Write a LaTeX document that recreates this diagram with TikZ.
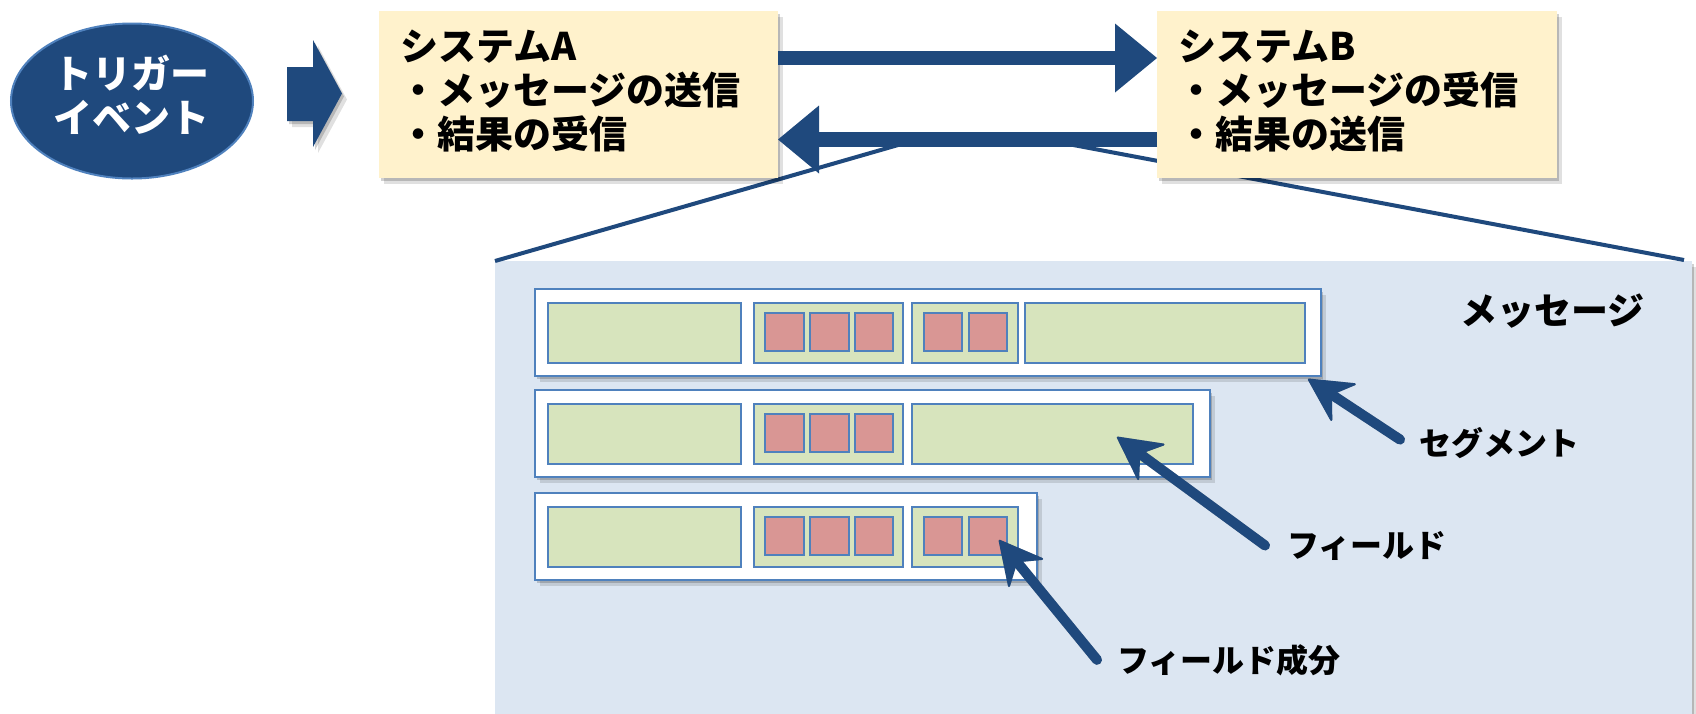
\documentclass[tikz,border=0pt]{standalone}
\usepackage{fontspec}
\newfontfamily\jp{Noto Sans CJK JP}
\usetikzlibrary{arrows.meta,shadows,calc,shapes.geometric}
\definecolor{navy}{HTML}{1F497D}
\definecolor{lblue}{HTML}{4F81BD}
\definecolor{boxy}{HTML}{FFF2CC}
\definecolor{panelc}{HTML}{DCE6F2}
\definecolor{fgreen}{HTML}{D7E4BD}
\definecolor{fred}{HTML}{D99694}
\begin{document}
\begin{tikzpicture}[x=1pt,y=-1pt,
  myshadow/.style={drop shadow={shadow xshift=2pt,shadow yshift=-3pt,opacity=.18,fill=black},
                   drop shadow={shadow xshift=5pt,shadow yshift=-6pt,opacity=.12,fill=black}},
  sysbox/.style={fill=boxy,draw=none,inner sep=0pt,outer sep=0pt,anchor=north west,myshadow},
  systxt/.style={font=\jp\bfseries\fontsize{38}{44}\selectfont,anchor=base west,inner sep=0pt},
  lbl/.style={font=\jp\bfseries\fontsize{32}{40}\selectfont,anchor=base west,inner sep=0pt},
  bigarrow/.style={navy,line cap=butt},
  pointer/.style={navy,line width=10pt,line cap=round,-{Stealth[length=46pt,width=48pt,inset=16pt,round,line width=2pt]}},
  pshadow/.style={black,line width=10pt,line cap=round,-{Stealth[length=46pt,width=48pt,inset=16pt,round,line width=2pt]}},
  segbox/.style={fill=white,draw=lblue,line width=2pt,myshadow},
  field/.style={fill=fgreen,draw=lblue,line width=2pt},
  comp/.style={fill=fred,draw=lblue,line width=2pt}
]
\useasboundingbox (0,0) rectangle (1696,713);
\fill[white] (0,0) rectangle (1696,713);

% message panel
\node[fill=panelc,draw=none,inner sep=0pt,outer sep=0pt,anchor=north west,
      minimum width=1197pt,minimum height=460pt,myshadow] (panel) at (495,261) {};

% zoom lines
\coordinate (zoomL) at (912,141);
\coordinate (zoomR) at (1052,141);
\draw[navy,line width=4pt] (zoomL) -- (panel.north west);
\draw[navy,line width=4pt] (zoomR) -- ($(panel.north east)+(-8,-1)$);

% trigger
\node[ellipse,fill=navy,draw=lblue,line width=2pt,minimum width=242pt,minimum height=155pt,inner sep=0pt] (trig) at (132,101) {};
\node[font=\jp\bfseries\fontsize{39}{44}\selectfont,text=white,align=center,inner sep=0pt] (trigtxt) at (131,95) {トリガー\\イベント};

% block arrow
\fill[navy,myshadow] (287,67) -- (313,67) -- (313,40) -- (342,93.5) -- (313,147) -- (313,121) -- (287,121) -- cycle;

% system boxes
\node[sysbox,minimum width=399pt,minimum height=167pt] (boxA) at (379,11) {};
\node[sysbox,minimum width=400pt,minimum height=167pt] (boxB) at (1157,11) {};

\node[systxt] (a1) at (400,60) {システムA};
\node[systxt] (a2) at (399,104) {・メッセージの送信};
\node[systxt] (a3) at (399,148) {・結果の受信};
\node[systxt] (b1) at (1178,60) {システムB};
\node[systxt] (b2) at (1177,104) {・メッセージの受信};
\node[systxt] (b3) at (1177,148) {・結果の送信};

% big arrows
\draw[bigarrow,line width=14pt,-{Triangle[length=42pt,width=69pt,line width=0pt]}]
  ($(boxA.north east)+(0,47)$) -- ($(boxB.north west)+(0,47)$);
\draw[bigarrow,line width=15pt,-{Triangle[length=41pt,width=68pt,line width=0pt]}]
  ($(boxB.north west)+(0,128.5)$) -- ($(boxA.north east)+(0,128.5)$);

% segments
\foreach \y/\r in {289/1321,390/1210,493/1037}{
  \draw[segbox] (535,\y) rectangle (\r,\y+87);
  \draw[field] (548,\y+14) rectangle (741,\y+74);
  \draw[field] (754,\y+14) rectangle (903,\y+74);
  \foreach \a/\b in {765/804,810/849,855/893}{
    \draw[comp] (\a,\y+24) rectangle (\b,\y+62);
  }
}
\draw[field] (912,303) rectangle (1018,363);
\draw[field] (1025,303) rectangle (1305,363);
\draw[field] (912,404) rectangle (1193,464);
\draw[field] (912,507) rectangle (1018,567);
\foreach \y in {289,493}{
  \foreach \a/\b in {924/962,969/1007}{
    \draw[comp] (\a,\y+24) rectangle (\b,\y+62);
  }
}

% labels
\node[lbl,font=\jp\bfseries\fontsize{37}{40}\selectfont] (lMsg) at (1460,324) {メッセージ};
\node[lbl] (lSeg) at (1419,455) {セグメント};
\node[lbl] (lFld) at (1287,557) {フィールド};
\node[lbl] (lCmp) at (1117,672) {フィールド成分};

\coordinate (tipSeg) at (1308,379);
\coordinate (tipFld) at (1117,437);
\coordinate (tipCmp) at (999,540);

\begin{scope}[transparency group,opacity=.25,shift={(4,5)}]
  \draw[pshadow] ([xshift=-19pt,yshift=3pt]lSeg.west) -- (tipSeg);
  \draw[pshadow] ([xshift=-22pt]lFld.west) -- (tipFld);
  \draw[pshadow] ([xshift=-20pt]lCmp.west) -- (tipCmp);
\end{scope}
\draw[pointer] ([xshift=-19pt,yshift=3pt]lSeg.west) -- (tipSeg);
\draw[pointer] ([xshift=-22pt]lFld.west) -- (tipFld);
\draw[pointer] ([xshift=-20pt]lCmp.west) -- (tipCmp);
\end{tikzpicture}
\end{document}
